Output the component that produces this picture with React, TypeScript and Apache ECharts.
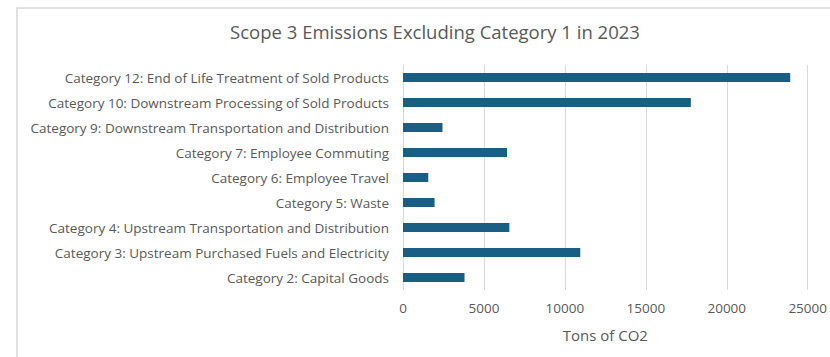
import React, { useEffect, useRef } from "react";
import * as echarts from "echarts";

const categories = [
  "Category 2: Capital Goods",
  "Category 3: Upstream Purchased Fuels and Electricity",
  "Category 4: Upstream Transportation and Distribution",
  "Category 5: Waste",
  "Category 6: Employee Travel",
  "Category 7: Employee Commuting",
  "Category 9: Downstream Transportation and Distribution",
  "Category 10: Downstream Processing of Sold Products",
  "Category 12: End of Life Treatment of Sold Products",
];
const emissions = [3800, 10950, 6570, 1950, 1560, 6430, 2440, 17780, 23920];
const titleText = "Scope 3 Emissions Excluding Category 1 in 2023";
const xAxisName = "Tons of CO2";

export default function App() {
  const ref = useRef<HTMLDivElement>(null);
  useEffect(() => {
    if (!ref.current) return;
    const chart = echarts.init(ref.current, null, { renderer: "svg" });
    const font = "'Open Sans', sans-serif";
    chart.setOption({
      animation: false,
      backgroundColor: "#ffffff",
      title: {
        text: titleText,
        left: 430,
        textAlign: "center",
        top: 17,
        textStyle: { color: "#595959", fontSize: 18.5, fontWeight: "normal", fontFamily: font },
      },
      graphic: [
        {
          type: "rect",
          shape: { x: 17, y: 8, width: 830, height: 400 },
          style: { fill: "none", stroke: "#d9d9d9", lineWidth: 1.5 },
          z: -1,
        },
      ],
      grid: { left: 403, right: 22, top: 65, bottom: 67, containLabel: false },
      xAxis: {
        type: "value",
        min: 0,
        max: 25000,
        interval: 5000,
        name: xAxisName,
        nameLocation: "middle",
        nameGap: 37,
        nameTextStyle: { color: "#595959", fontSize: 15, fontFamily: font },
        axisLine: { show: false },
        axisTick: { show: false },
        axisLabel: {
          color: "#595959",
          fontSize: 13.5,
          fontFamily: font,
          margin: 11,
          formatter: (v: number) => String(v),
        },
        splitLine: { show: true, lineStyle: { color: "#d9d9d9", width: 1 } },
      },
      yAxis: {
        type: "category",
        data: categories,
        axisLine: { show: false },
        axisTick: { show: false },
        axisLabel: { color: "#595959", fontSize: 13.5, fontFamily: font, margin: 14 },
      },
      series: [
        {
          type: "bar",
          data: emissions,
          barWidth: 9,
          itemStyle: { color: "#195e83" },
        },
      ],
    });
    return () => chart.dispose();
  }, []);
  return (
    <div
      ref={ref}
      style={{ position: "absolute", left: 0, top: 0, width: 830, height: 357 }}
    />
  );
}
